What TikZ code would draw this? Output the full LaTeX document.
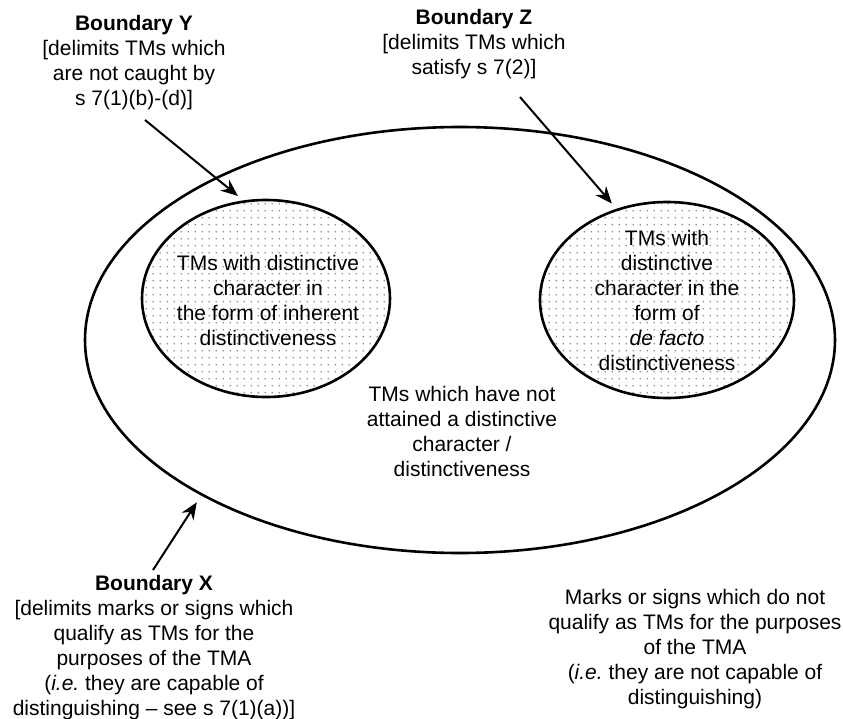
\documentclass[tikz,border=0pt]{standalone}
\usepackage{fontspec}
\setmainfont{Liberation Sans}
\usetikzlibrary{shapes.geometric, arrows.meta, patterns.meta}
\frenchspacing

\pgfdeclarepattern{
  name=tmdots, type=uncolored,
  bottom left={\pgfpointorigin}, top right={\pgfpoint{3.6pt}{3.6pt}},
  tile size={\pgfpoint{3.6pt}{3.6pt}},
  code={\pgfpathcircle{\pgfpoint{1.8pt}{1.8pt}}{0.55pt}\pgfusepath{fill}}
}

\begin{document}
\begin{tikzpicture}[x=0.5pt, y=-0.5pt,
  label/.style={font=\fontsize{10.5}{12.5}\selectfont, align=center, inner sep=0pt},
  zone/.style={ellipse, draw=black, line width=1.3pt, inner sep=0pt},
  inset/.style={zone, pattern=tmdots, pattern color=black!45},
  pointer/.style={-{Stealth[length=8.5pt, width=7pt]}, line width=1pt},
]
\useasboundingbox (0,0) rectangle (843,719);

% the three zones
\node[zone, minimum width=375pt, minimum height=213pt] (outer) at (460,340) {};
\node[inset, minimum width=124pt, minimum height=98.5pt] (inL) at (266,298.5) {};
\node[inset, minimum width=127pt, minimum height=98pt] (inR) at (667,300) {};

% texts inside
\node[label] (inherent) at (268,300) {TMs with distinctive\\character in\\the form of inherent\\distinctiveness};
\node[label] (defacto) at (667,300) {TMs with\\distinctive\\character in the\\form of\\\textit{de facto}\\distinctiveness};
\node[label] (notyet) at (462,431) {TMs which have not\\attained a distinctive\\character /\\distinctiveness};

% boundary notes
\node[label] (markY) at (134,63) {\textbf{Boundary Y}\\{[}delimits TMs which\\are not caught by\\s 7(1)(b)-(d)]};
\node[label] (markZ) at (474,44) {\textbf{Boundary Z}\\{[}delimits TMs which\\satisfy s 7(2)]};
\node[label] (markX) at (154,648) {\textbf{Boundary X}\\{[}delimits marks or signs which\\qualify as TMs for the\\purposes of the TMA\\(\textit{i.e.} they are capable of\\distinguishing -- see s 7(1)(a))]};
\node[label] (outside) at (695,649) {Marks or signs which do not\\qualify as TMs for the purposes\\of the TMA\\(\textit{i.e.} they are not capable of\\distinguishing)};

% pointers
\coordinate (tailY) at (145,120);
\coordinate (tailZ) at (520,97);
\coordinate (tailX) at (153,570);
\draw[pointer, shorten >=3.5pt] (tailY) -- (inL.103);
\draw[pointer, shorten >=3.5pt] (tailZ) -- (inR.119.4);
\draw[pointer, shorten >=4pt] (tailX) -- (outer.211.5);
\end{tikzpicture}
\end{document}
